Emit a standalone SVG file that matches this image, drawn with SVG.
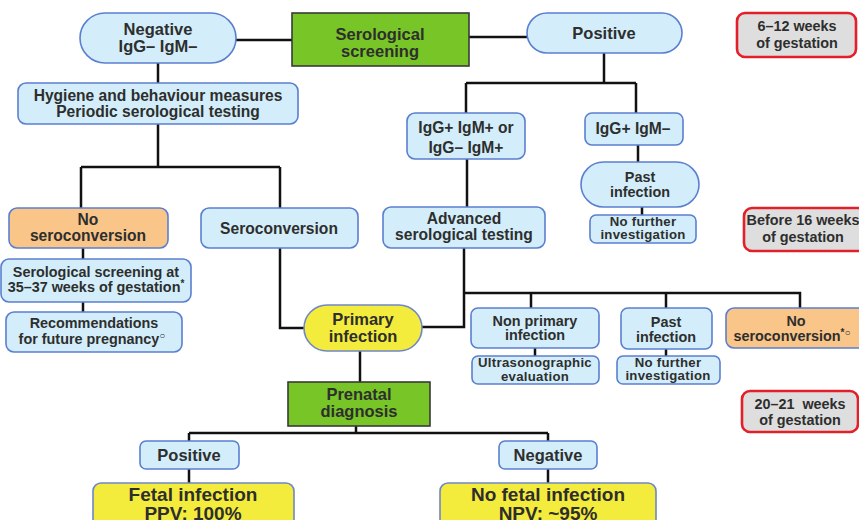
<svg xmlns="http://www.w3.org/2000/svg" width="859" height="520" viewBox="0 0 859 520">
<style>
.b{fill:#d3eefa;stroke:#5b7fd0;stroke-width:1.6}
.o{fill:#f9c589;stroke:#5b7fd0;stroke-width:1.6}
.y{fill:#f4ec3c;stroke:#6f86c8;stroke-width:1.6}
.g{fill:#77c526;stroke:#3a3a3a;stroke-width:1.6}
.r{fill:#dedede;stroke:#e3202a;stroke-width:2.6}
text{font-family:"Liberation Sans",Arial,sans-serif;font-weight:bold;fill:#2e2e2e;text-anchor:middle}
.t16{font-size:16.5px}
.t15{font-size:15.6px}
.t14{font-size:14.4px}
.t13{font-size:13.2px;letter-spacing:0.3px}
.t19{font-size:19px}
.c path{stroke:#111;stroke-width:2.5;fill:none}
.sup{font-size:10px}
</style>
<rect width="859" height="520" fill="#ffffff"/>
<g class="c" id="connectors">
<path d="M236,40H292"/>
<path d="M469,37H527"/>
<path d="M604,53V83M466,83H636M466,83V113M636,83V113"/>
<path d="M638,145V162M642,207V215"/>
<path d="M467,159V207"/>
<path d="M464,248V327H422M464,293H800V308M531,293V308M666,293V308"/>
<path d="M535,348V356M666,349V356"/>
<path d="M158,63V83M158,124V167M81,167H280M81,167V208M280,167V208"/>
<path d="M83,248V259M83,302V312"/>
<path d="M280,248V328H304"/>
<path d="M360,351V382"/>
<path d="M356,426V433M189,433H548M189,433V441M548,433V441"/>
<path d="M189,469V483M548,469V483"/>
</g>
<g id="negative"><rect class="b" x="80" y="13" width="156" height="50" rx="25"/><text class="t16" x="158" y="35">Negative</text><text class="t16" x="158" y="52">IgG– IgM–</text></g>
<g id="serological-screening"><rect class="g" x="292" y="13" width="177" height="53"/><text class="t16" x="380" y="40">Serological</text><text class="t16" x="380" y="57">screening</text></g>
<g id="positive"><rect class="b" x="527" y="13" width="155" height="40" rx="20"/><text class="t16" x="604" y="39">Positive</text></g>
<g id="weeks-6-12"><rect class="r" x="737" y="13" width="119" height="44" rx="8"/><text class="t14" x="797" y="31">6–12 weeks</text><text class="t14" x="797" y="48">of gestation</text></g>
<g id="hygiene"><rect class="b" x="18" y="83" width="280" height="41" rx="8"/><text class="t15" x="158" y="101">Hygiene and behaviour measures</text><text class="t15" x="158" y="117">Periodic serological testing</text></g>
<g id="igg-igm-plus"><rect class="b" x="407" y="113" width="118" height="46" rx="8"/><text class="t15" x="466" y="133">IgG+ IgM+ or</text><text class="t15" x="466" y="153">IgG– IgM+</text></g>
<g id="igg-plus-igm-minus"><rect class="b" x="585" y="113" width="98" height="32" rx="7"/><text class="t15" x="633" y="134">IgG+ IgM–</text></g>
<g id="past-infection-1"><rect class="b" x="581" y="162" width="118" height="45" rx="22.5"/><text class="t14" x="640" y="182">Past</text><text class="t14" x="640" y="197">infection</text></g>
<g id="no-further-1"><rect class="b" x="590" y="215" width="106" height="28" rx="6"/><text class="t13" x="643" y="226">No further</text><text class="t13" x="643" y="239">investigation</text></g>
<g id="advanced"><rect class="b" x="383" y="207" width="162" height="41" rx="8"/><text class="t15" x="464" y="224">Advanced</text><text class="t15" x="464" y="240">serological testing</text></g>
<g id="weeks-16"><rect class="r" x="744" y="208" width="125" height="43" rx="8"/><text class="t14" x="803" y="225">Before 16 weeks</text><text class="t14" x="803" y="242">of gestation</text></g>
<g id="no-seroconversion-left"><rect class="o" x="9" y="208" width="159" height="40" rx="8"/><text class="t15" x="88" y="225">No</text><text class="t15" x="88" y="241">seroconversion</text></g>
<g id="seroconversion"><rect class="b" x="201" y="208" width="157" height="40" rx="8"/><text class="t15" x="279" y="234">Seroconversion</text></g>
<g id="screening-35-37"><rect class="b" x="1" y="259" width="190" height="43" rx="8"/><text class="t14" x="96" y="277">Serological screening at</text><text class="t14" x="96" y="292">35–37 weeks of gestation<tspan class="sup" dy="-5">*</tspan></text></g>
<g id="recommendations"><rect class="b" x="6" y="312" width="176" height="40" rx="8"/><text class="t14" x="94" y="328">Recommendations</text><text class="t14" x="92" y="344">for future pregnancy<tspan class="sup" dy="-5">○</tspan></text></g>
<g id="primary-infection"><rect class="y" x="304" y="305" width="118" height="46" rx="23"/><text class="t16" x="363" y="325">Primary</text><text class="t16" x="363" y="342">infection</text></g>
<g id="non-primary"><rect class="b" x="471" y="308" width="128" height="40" rx="7"/><text class="t14" x="535" y="326">Non primary</text><text class="t14" x="535" y="340">infection</text></g>
<g id="ultrasonographic"><rect class="b" x="472" y="356" width="127" height="28" rx="6"/><text class="t13" x="535" y="367">Ultrasonographic</text><text class="t13" x="535" y="381">evaluation</text></g>
<g id="past-infection-2"><rect class="b" x="621" y="308" width="91" height="41" rx="7"/><text class="t14" x="666" y="327">Past</text><text class="t14" x="666" y="342">infection</text></g>
<g id="no-further-2"><rect class="b" x="617" y="356" width="103" height="28" rx="6"/><text class="t13" x="668" y="367">No further</text><text class="t13" x="668" y="380">investigation</text></g>
<g id="no-seroconversion-right"><rect class="o" x="726" y="308" width="142" height="40" rx="8"/><text class="t14" x="796" y="326">No</text><text class="t14" x="792" y="341">seroconversion<tspan class="sup" dy="-5">*○</tspan></text></g>
<g id="weeks-20-21"><rect class="r" x="742" y="391" width="116" height="41" rx="8"/><text class="t14" x="800" y="409" xml:space="preserve">20–21  weeks</text><text class="t14" x="800" y="425">of gestation</text></g>
<g id="prenatal"><rect class="g" x="288" y="382" width="142" height="44"/><text class="t16" x="359" y="400">Prenatal</text><text class="t16" x="359" y="417">diagnosis</text></g>
<g id="positive-2"><rect class="b" x="140" y="441" width="99" height="28" rx="6"/><text class="t16" x="189" y="461">Positive</text></g>
<g id="negative-2"><rect class="b" x="499" y="441" width="98" height="28" rx="6"/><text class="t16" x="548" y="461">Negative</text></g>
<g id="fetal-infection"><rect class="y" x="93" y="483" width="201" height="50" rx="8"/><text class="t19" x="193" y="501">Fetal infection</text><text class="t19" x="193" y="520">PPV: 100%</text></g>
<g id="no-fetal-infection"><rect class="y" x="440" y="483" width="216" height="50" rx="8"/><text class="t19" x="548" y="501">No fetal infection</text><text class="t19" x="548" y="520">NPV: ~95%</text></g>
</svg>
